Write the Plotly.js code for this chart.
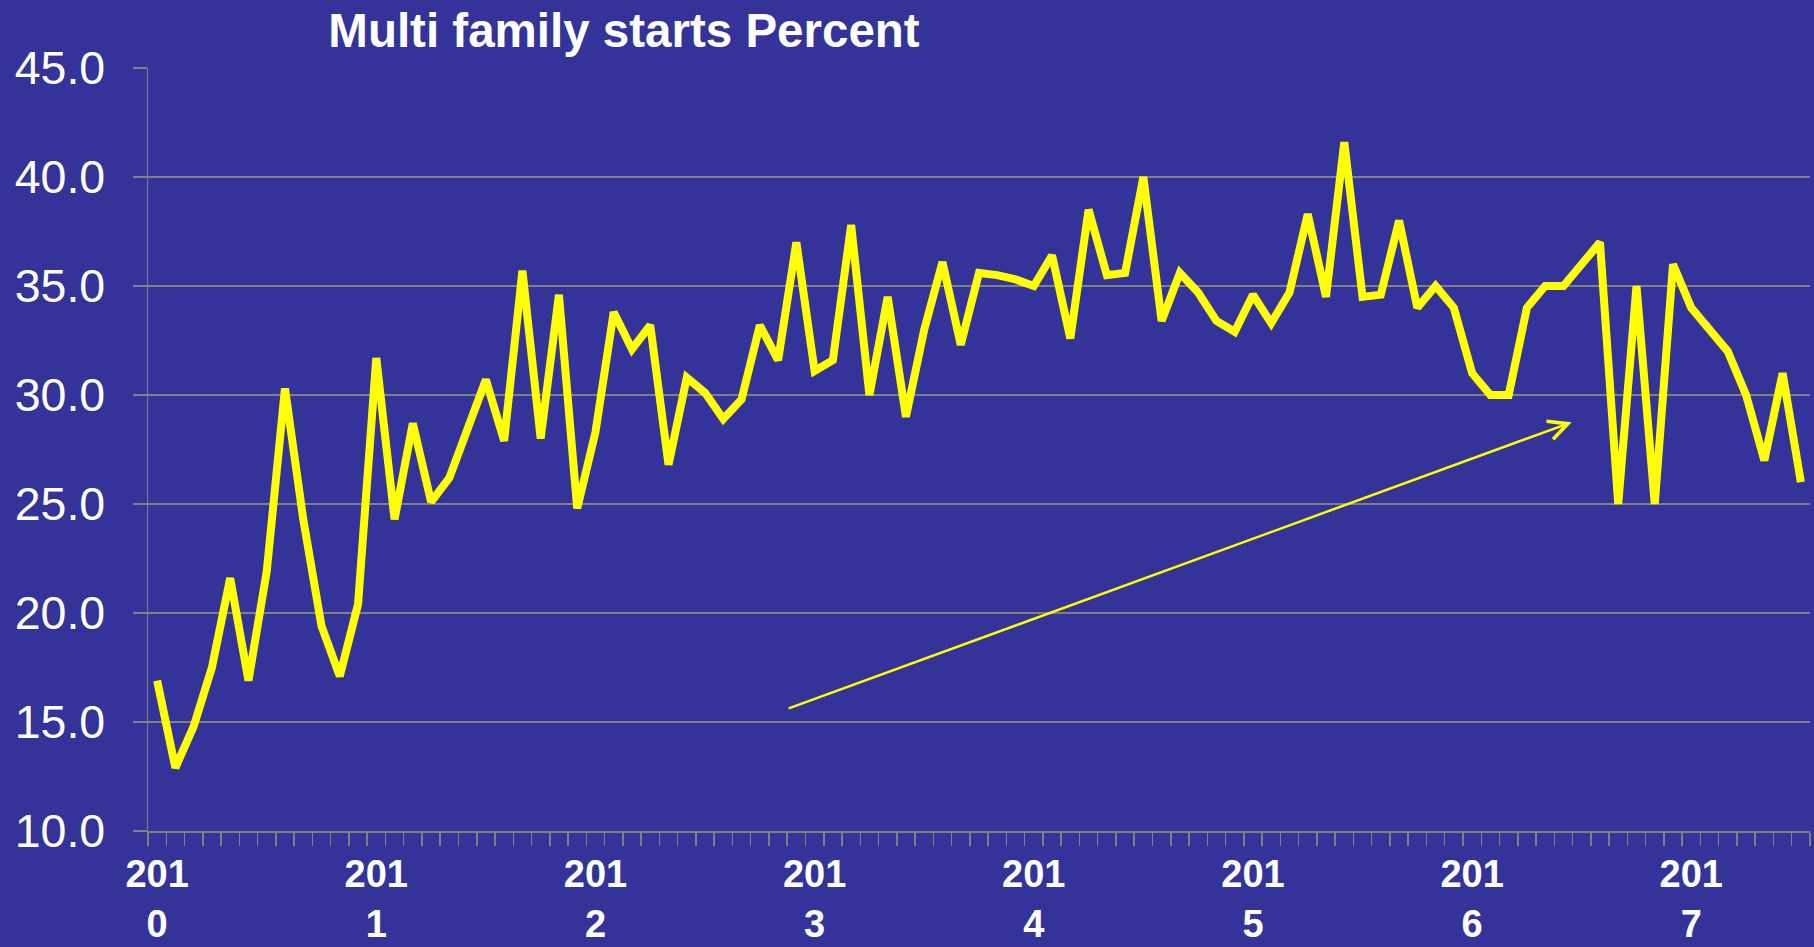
<!DOCTYPE html>
<html>
<head>
<meta charset="utf-8">
<script src="https://cdn.plot.ly/plotly-3.0.1.min.js"></script>
<style>
  html, body { margin: 0; padding: 0; background: #333399; }
  #chart { width: 1814px; height: 947px; }
</style>
</head>
<body>
<div id="chart"></div>
<script>
// Tick labels (years) – one label every 12 monthly categories
const years = ["2010", "2011", "2012", "2013", "2014", "2015", "2016", "2017"];
const monthNames = ["01","02","03","04","05","06","07","08","09","10","11","12"];

// Monthly categories Jan 2010 .. Jul 2017
const categories = [];
years.forEach(function (y) {
  monthNames.forEach(function (m) {
    if (categories.length < 91) categories.push(y + "-" + m);
  });
});

// Multi family starts, percent of total starts
const multiFamilyPct = [
  16.9, 12.9, 14.8, 17.5, 21.6, 16.9, 21.9, 30.3, 24.3, 19.4, 17.1, 20.4,
  31.7, 24.3, 28.7, 25.1, 26.2, 28.5, 30.7, 27.9, 35.7, 28.0, 34.6, 24.8,
  28.3, 33.8, 32.1, 33.2, 26.8, 30.8, 30.1, 28.9, 29.8, 33.2, 31.6, 37.0,
  31.1, 31.6, 37.8, 30.0, 34.5, 29.0, 33.0, 36.1, 32.3, 35.6, 35.5, 35.3,
  35.0, 36.4, 32.6, 38.5, 35.5, 35.6, 40.0, 33.4, 35.6, 34.7, 33.4, 32.9,
  34.6, 33.3, 34.7, 38.3, 34.5, 41.6, 34.5, 34.6, 38.0, 34.0, 35.0, 34.0,
  31.0, 30.0, 30.0, 34.0, 35.0, 35.0, 36.0, 37.0, 25.0, 35.0, 25.0, 36.0,
  34.0, 33.0, 32.0, 30.0, 27.0, 31.0, 26.0
];

// Year tick labels, wrapped as in the original ("201" / "0")
const tickText = categories.map(function (c) {
  const parts = c.split("-");
  if (parts[1] === "01") return parts[0].slice(0, 3) + "<br>" + parts[0].slice(3);
  return "";
});

// Hand-drawn trend arrow (category index, percent)
const arrowStart = [34.5, 15.6];
const arrowEnd = [77.45, 28.75];

const BG = "#333399";
const GRID = "#808080";
const YELLOW = "#FFFF00";
const FONT = "Liberation Sans, Arial, sans-serif";

const trace = {
  type: "scatter",
  mode: "lines",
  x: categories,
  y: multiFamilyPct,
  line: { color: YELLOW, width: 8 },
  hoverinfo: "x+y",
  showlegend: false
};

const layout = {
  width: 1814,
  height: 947,
  paper_bgcolor: BG,
  plot_bgcolor: BG,
  margin: { l: 148, r: 4, t: 68, b: 116, pad: 0 },
  showlegend: false,
  title: {
    text: "Multi family starts Percent",
    font: { family: FONT, size: 47.5, color: "#FFFFFF", weight: "bold" },
    x: 624 / 1814,
    xanchor: "center",
    xref: "container",
    y: 1 - 30 / 947,
    yref: "container",
    yanchor: "middle"
  },
  xaxis: {
    type: "category",
    range: [-0.5, 90.5],
    tickmode: "array",
    tickvals: categories,
    ticktext: tickText,
    tickson: "boundaries",
    ticks: "outside",
    ticklen: 13,
    tickwidth: 1.5,
    tickcolor: GRID,
    showgrid: false,
    showline: true,
    linecolor: GRID,
    linewidth: 1.5,
    tickfont: { family: FONT, size: 38, color: "#FFFFFF", weight: "bold" },
    tickangle: 0,
    ticklabelstandoff: 9,
    fixedrange: true
  },
  yaxis: {
    range: [10, 45],
    tickmode: "linear",
    tick0: 10,
    dtick: 5,
    tickformat: ".1f",
    ticks: "outside",
    ticklen: 14,
    tickwidth: 1.5,
    tickcolor: GRID,
    showgrid: true,
    gridcolor: GRID,
    gridwidth: 1.5,
    zeroline: false,
    showline: true,
    linecolor: GRID,
    linewidth: 1.5,
    tickfont: { family: FONT, size: 46.5, color: "#FFFFFF" },
    ticklabelstandoff: 18,
    fixedrange: true
  },
  annotations: [{
    xref: "x", yref: "y", axref: "x", ayref: "y",
    x: arrowEnd[0], y: arrowEnd[1],
    ax: arrowStart[0], ay: arrowStart[1],
    text: "",
    showarrow: true,
    arrowhead: 5,
    arrowsize: 1.5,
    arrowwidth: 2.5,
    arrowcolor: YELLOW
  }]
};

Plotly.newPlot("chart", [trace], layout, { displayModeBar: false, staticPlot: true });
</script>
</body>
</html>
